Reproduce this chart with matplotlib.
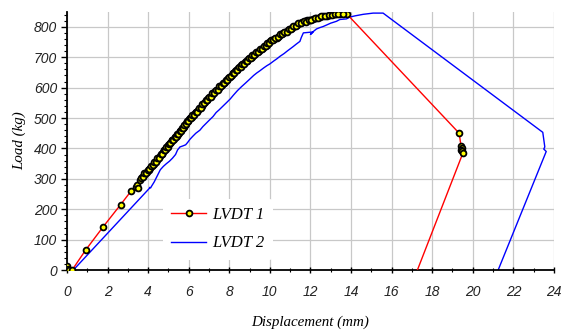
import numpy as np
import matplotlib.pyplot as plt
from matplotlib.ticker import MultipleLocator

# LVDT 1 readings (displacement mm, load kg)
red_x = [0.0, 0.04, 0.10, 0.25, 0.92, 1.79, 2.64, 3.15, 3.40, 3.45, 3.50,
         3.62, 3.70, 3.78, 3.86, 3.95, 4.02, 4.10, 4.18, 4.27, 4.35, 4.42, 4.50,
         4.58, 4.66, 4.74, 4.80, 4.86, 4.93, 5.00, 5.07, 5.14, 5.20, 5.27, 5.33,
         5.40, 5.46, 5.52, 5.58, 5.64, 5.70, 5.76, 5.82, 5.88, 5.95, 6.02, 6.08,
         6.15, 6.22, 6.30, 6.38, 6.46, 6.55, 6.63, 6.72, 6.80, 6.88, 6.97, 7.05,
         7.13, 7.21, 7.30, 7.38, 7.47, 7.55, 7.63, 7.72, 7.80, 7.87, 7.95, 8.03,
         8.12, 8.20, 8.28, 8.36, 8.44, 8.52, 8.60, 8.68, 8.77, 8.85, 8.93, 9.01,
         9.10, 9.18, 9.27, 9.36, 9.45, 9.55, 9.65, 9.75, 9.84, 9.92, 10.00, 10.10,
         10.20, 10.33, 10.45, 10.56, 10.66, 10.76, 10.87, 10.99, 11.10, 11.22,
         11.35, 11.48, 11.60, 11.72, 11.85, 11.97, 12.12, 12.28, 12.45, 12.63,
         12.80, 12.98, 13.15, 13.28, 13.45, 13.78, 19.33, 19.42, 19.45, 19.43,
         19.48, 19.52, 17.27]
red_y = [12, 3, 0, 0, 66, 143, 215, 259, 272, 280, 271,
         296, 305, 312, 318, 324, 330, 335, 342, 350, 356, 362, 369,
         376, 382, 389, 395, 399, 405, 411, 417, 422, 428, 432, 437,
         442, 446, 451, 456, 462, 467, 472, 478, 484, 490, 496, 500,
         505, 510, 515, 521, 526, 533, 540, 547, 553, 560, 565, 570,
         575, 581, 588, 592, 598, 604, 609, 615, 620, 625, 631, 636,
         642, 648, 654, 658, 664, 669, 674, 679, 684, 688, 693, 698,
         702, 707, 712, 717, 722, 727, 731, 736, 741, 747, 752, 756,
         759, 764, 770, 775, 780, 784, 788, 792, 797, 802,
         807, 812, 815, 818, 821, 823, 826, 829, 831, 834,
         837, 839, 841, 842, 843, 843, 450, 408, 400, 396,
         392, 386, 0]

# extra LVDT 1 samples logged between the ones above (markers only)
red_x2 = [3.66, 3.74, 3.82, 3.90, 3.98, 4.06, 4.14, 4.22, 4.31, 4.38, 4.46,
          4.54, 4.62, 4.70, 4.77, 4.83, 4.90, 4.96, 5.03, 5.10, 5.17, 5.23,
          5.30, 5.36, 5.43, 5.49, 5.55, 5.61, 5.67, 5.73, 5.79, 5.85, 5.91,
          5.98, 6.05, 6.11, 6.18, 6.26, 6.34, 6.42, 6.50, 6.59, 6.67, 6.76,
          6.84, 6.92, 7.01, 7.09, 7.17, 7.25, 7.34, 7.42, 7.51, 7.59, 7.67,
          7.76, 7.83, 7.91, 7.99, 8.07, 8.16, 8.24, 8.32, 8.40, 8.48, 8.56,
          8.64, 8.72, 8.81, 8.89, 8.97, 9.05, 9.14, 9.22, 9.31, 9.40, 9.50,
          9.60, 9.70, 9.80, 9.88, 9.96, 10.05, 10.15, 10.26, 10.39, 10.50,
          10.61, 10.71, 10.82, 10.93, 11.04, 11.16, 11.28, 11.41, 11.54,
          11.66, 11.78, 11.91, 12.05, 12.20, 12.36, 12.54, 12.72, 12.89,
          13.06, 13.22, 13.37, 13.60]
red_y2 = [302, 306, 318, 319, 330, 331, 341, 344, 355, 357, 368,
          370, 381, 383, 394, 395, 404, 406, 416, 418, 427, 428,
          437, 437, 446, 446, 456, 457, 467, 467, 478, 479, 490,
          490, 500, 500, 510, 510, 521, 521, 532, 534, 546, 548,
          559, 559, 570, 570, 581, 582, 593, 593, 604, 604, 615,
          615, 625, 626, 636, 637, 648, 649, 659, 659, 669, 669,
          679, 679, 689, 689, 698, 698, 707, 708, 717, 717, 727,
          727, 736, 736, 746, 747, 756, 756, 764, 765, 775,
          775, 784, 784, 792, 793, 802, 802, 812, 811,
          818, 817, 823, 823, 829, 828, 834, 834, 839,
          839, 842, 843, 843]

# LVDT 2 readings
blue_x = [0.31, 4.05, 4.08, 4.12, 4.17, 4.30, 4.45, 4.60, 4.75, 4.90, 5.05,
          5.20, 5.35, 5.45, 5.57, 5.70, 5.85, 5.95, 6.06, 6.20, 6.35, 6.55,
          6.70, 6.85, 7.00, 7.20, 7.35, 7.50, 7.70, 7.87, 8.05, 8.20, 8.40,
          8.60, 8.80, 9.01, 9.20, 9.35, 9.50, 9.70, 9.85, 10.00, 10.20, 10.35,
          10.50, 10.70, 10.85, 10.99, 11.15, 11.30, 11.48, 11.55, 11.65, 12.13,
          12.00, 12.15, 12.30, 12.45, 12.63, 12.80, 13.00, 13.28, 13.45, 13.78,
          13.94, 14.20, 14.60, 15.09, 15.58, 23.45, 23.55, 23.50, 23.62, 21.25]
blue_y = [0, 268, 272, 270, 276, 290, 310, 330, 341, 350, 358,
          368, 380, 395, 405, 408, 412, 420, 430, 440, 450, 460,
          472, 482, 492, 505, 518, 527, 540, 551, 563, 575, 590,
          603, 615, 628, 640, 648, 655, 665, 672, 678, 688, 695,
          703, 712, 720, 727, 735, 743, 752, 765, 780, 783,
          775, 785, 793, 797, 801, 806, 812, 818, 824, 826,
          832, 836, 841, 845, 845, 453, 405, 398, 390, 0]

x_ticks = np.arange(0, 25, 2)
y_ticks = np.arange(0, 801, 100)

fig = plt.figure(figsize=(5.61, 3.31), dpi=100)
ax = fig.add_axes([0.1194, 0.184, 0.868, 0.781])

mk = dict(marker='o', ms=4.2, mfc='yellow', mec='black', mew=1.3)
ax.plot(red_x, red_y, color='red', lw=1.0, markevery=slice(0, -1),
        label='LVDT 1', zorder=3, **mk)
ax.plot(red_x2, red_y2, ls='none', zorder=3, **mk)
ax.plot(blue_x, blue_y, color='blue', lw=1.0, label='LVDT 2', zorder=2)

ax.set_xlim(0, 24)
ax.set_ylim(0, 850)
ax.set_xticks(x_ticks)
ax.set_yticks(y_ticks)
ax.xaxis.set_minor_locator(MultipleLocator(1))
ax.yaxis.set_minor_locator(MultipleLocator(20))
ax.grid(True, which='major', color='#c8c8c8', lw=0.9, zorder=0)

for s in ['top', 'right']:
    ax.spines[s].set_visible(False)
for s in ['left', 'bottom']:
    ax.spines[s].set_linewidth(1.3)

ax.tick_params(axis='x', which='major', direction='inout', length=5, width=1, pad=8)
ax.tick_params(axis='x', which='minor', direction='inout', length=3, width=0.8)
ax.tick_params(axis='y', which='major', direction='out', length=4, width=1, pad=3)
ax.tick_params(axis='y', which='minor', direction='out', length=2, width=0.8)

for lab in ax.get_xticklabels() + ax.get_yticklabels():
    lab.set_fontfamily('Liberation Sans')
    lab.set_fontstyle('italic')
    lab.set_fontsize(10)
    lab.set_color('#222222')

ax.set_xlabel('Displacement (mm)', family='Liberation Serif', style='italic',
              fontsize=10.8, labelpad=12)
ax.set_ylabel('Load (kg)', family='Liberation Serif', style='italic',
              fontsize=10.8, labelpad=6)

leg = ax.legend(loc='lower left', bbox_to_anchor=(0.18, 0.008), frameon=True,
                prop={'family': 'Liberation Serif', 'style': 'italic', 'size': 12},
                handlelength=2.1, handletextpad=0.35, labelspacing=0.75,
                borderpad=0.5)
leg.get_frame().set_edgecolor('none')
leg.get_frame().set_facecolor('white')
leg.get_frame().set_alpha(1)

fig.savefig('out.png', dpi=100)
